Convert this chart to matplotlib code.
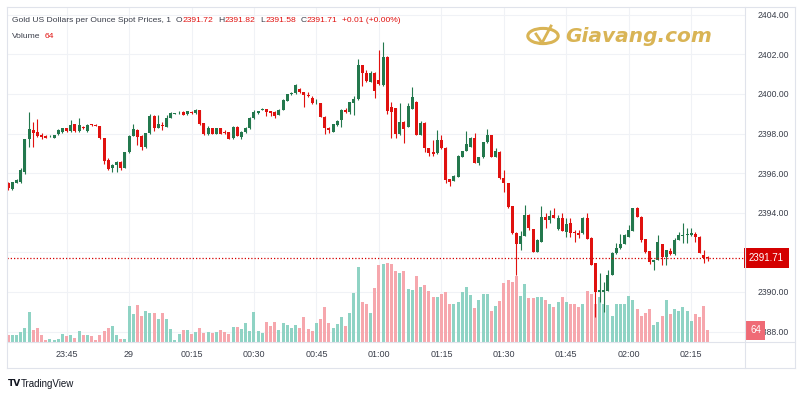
import numpy as np
import matplotlib.pyplot as plt
from matplotlib.patches import Circle
from matplotlib.lines import Line2D

plt.rcParams['font.family'] = ['Liberation Sans', 'DejaVu Sans']

# ====== data (1-minute candles, 23:31 -> 02:19) ======
opens = [
    2395.52, 2395.20, 2395.52, 2395.57, 2396.04, 2397.72, 2398.18, 2398.09, 2397.93, 2397.88,
    2397.86, 2397.79, 2397.96, 2398.09, 2398.26, 2398.13, 2398.46, 2398.13, 2398.35, 2398.13,
    2398.46, 2398.43, 2398.38, 2397.76, 2396.66, 2396.24, 2396.41, 2396.58, 2396.28, 2397.05,
    2397.89, 2398.20, 2397.88, 2397.30, 2398.01, 2398.89, 2398.30, 2398.43, 2398.35, 2398.80,
    2398.99, 2399.02, 2399.10, 2398.97, 2399.10, 2399.02, 2399.17, 2398.52, 2397.96, 2398.26,
    2397.99, 2398.26, 2398.09, 2398.06, 2397.76, 2398.35, 2397.84, 2398.06, 2398.26, 2398.77,
    2399.02, 2399.19, 2399.24, 2399.14, 2399.10, 2398.94, 2399.19, 2399.66, 2399.98, 2400.03,
    2400.23, 2400.08, 2399.95, 2399.81, 2399.52, 2399.53, 2398.85, 2398.30, 2398.09, 2398.43,
    2398.68, 2399.19, 2399.07, 2399.53, 2399.73, 2401.46, 2401.04, 2400.62, 2401.07, 2400.70,
    2400.45, 2401.88, 2399.32, 2399.27, 2397.96, 2398.60, 2398.35, 2399.24, 2399.61, 2397.93,
    2398.55, 2397.25, 2397.08, 2397.00, 2397.67, 2397.29, 2395.70, 2395.62, 2395.82, 2396.83,
    2397.12, 2397.34, 2397.76, 2396.49, 2396.80, 2397.56, 2397.93, 2396.83, 2397.08, 2395.77,
    2395.48, 2394.34, 2392.96, 2392.40, 2392.82, 2393.89, 2393.16, 2392.03, 2392.54, 2393.80,
    2393.63, 2393.89, 2393.16, 2393.72, 2393.01, 2393.46, 2393.04, 2392.99, 2392.96, 2393.72,
    2392.74, 2391.44, 2389.98, 2390.01, 2390.06, 2390.86, 2391.95, 2392.20, 2392.42, 2392.79,
    2393.09, 2394.22, 2393.80, 2392.66, 2392.07, 2391.53, 2391.61, 2392.42, 2391.78, 2392.07,
    2391.90, 2392.62, 2392.83, 2392.88, 2392.86, 2392.91, 2392.79, 2391.87, 2391.72,
]
highs = [
    2395.57, 2395.57, 2395.70, 2396.24, 2397.72, 2399.07, 2398.60, 2398.73, 2398.01, 2397.90,
    2397.92, 2397.95, 2398.22, 2398.30, 2398.28, 2398.68, 2398.50, 2398.77, 2398.38, 2398.46,
    2398.50, 2398.46, 2398.40, 2397.78, 2396.75, 2396.44, 2396.61, 2396.61, 2397.08, 2397.92,
    2398.46, 2398.23, 2397.90, 2398.04, 2398.97, 2398.92, 2398.94, 2398.57, 2398.94, 2399.07,
    2399.05, 2399.14, 2399.12, 2399.16, 2399.12, 2399.22, 2399.19, 2398.55, 2398.38, 2398.28,
    2398.28, 2398.28, 2398.16, 2398.08, 2398.38, 2398.38, 2398.12, 2398.33, 2398.85, 2399.19,
    2399.16, 2399.31, 2399.26, 2399.16, 2399.12, 2399.22, 2399.72, 2400.00, 2400.11, 2400.48,
    2400.28, 2400.10, 2400.11, 2399.91, 2399.74, 2399.55, 2398.87, 2398.33, 2398.48, 2398.68,
    2399.22, 2399.27, 2399.60, 2399.90, 2401.76, 2401.48, 2401.21, 2401.16, 2401.10, 2402.22,
    2402.61, 2401.90, 2399.61, 2399.29, 2399.53, 2398.62, 2399.53, 2400.33, 2399.63, 2398.63,
    2398.57, 2397.27, 2397.67, 2398.18, 2397.93, 2397.31, 2395.72, 2395.89, 2396.90, 2397.14,
    2398.14, 2397.82, 2398.01, 2396.82, 2397.58, 2398.21, 2397.95, 2397.25, 2397.10, 2396.16,
    2395.50, 2394.36, 2393.04, 2393.08, 2394.39, 2393.91, 2393.18, 2392.65, 2394.34, 2393.97,
    2394.14, 2394.26, 2393.89, 2393.97, 2393.75, 2393.72, 2393.13, 2393.13, 2393.77, 2393.97,
    2392.76, 2391.46, 2390.94, 2390.52, 2391.11, 2392.03, 2392.45, 2392.91, 2392.90, 2393.38,
    2394.25, 2394.31, 2393.82, 2392.68, 2392.09, 2391.63, 2392.88, 2392.44, 2392.14, 2392.20,
    2392.71, 2393.04, 2393.50, 2393.21, 2393.21, 2393.04, 2392.81, 2392.12, 2391.82,
]
lows = [
    2395.15, 2395.13, 2395.50, 2395.52, 2395.94, 2397.34, 2397.34, 2397.84, 2397.72, 2397.76,
    2397.82, 2397.77, 2397.94, 2398.05, 2398.10, 2398.10, 2398.10, 2398.10, 2398.22, 2398.10,
    2398.40, 2398.38, 2397.72, 2396.44, 2396.16, 2396.04, 2396.07, 2396.16, 2396.24, 2397.02,
    2397.86, 2397.42, 2397.17, 2397.27, 2397.98, 2398.13, 2398.27, 2398.18, 2398.32, 2398.77,
    2398.97, 2399.00, 2398.92, 2398.95, 2399.00, 2399.00, 2398.43, 2397.95, 2397.94, 2397.96,
    2397.96, 2397.96, 2397.96, 2397.70, 2397.74, 2397.86, 2397.72, 2398.03, 2398.24, 2398.75,
    2399.00, 2399.17, 2398.90, 2398.90, 2398.77, 2398.92, 2399.17, 2399.64, 2399.95, 2400.01,
    2400.03, 2399.36, 2399.86, 2399.50, 2399.49, 2398.83, 2397.96, 2398.01, 2398.06, 2398.40,
    2398.35, 2399.05, 2398.97, 2398.94, 2399.70, 2400.42, 2400.59, 2400.59, 2399.78, 2400.45,
    2400.42, 2398.99, 2397.76, 2397.79, 2397.94, 2397.50, 2398.33, 2399.22, 2397.90, 2397.90,
    2397.08, 2396.88, 2396.88, 2396.98, 2397.22, 2395.48, 2395.37, 2395.60, 2395.80, 2396.81,
    2397.10, 2397.32, 2396.50, 2396.41, 2396.78, 2397.54, 2396.80, 2396.81, 2395.70, 2395.06,
    2394.22, 2392.94, 2390.86, 2392.12, 2392.80, 2393.13, 2392.00, 2392.00, 2392.52, 2393.21,
    2393.46, 2393.72, 2393.14, 2393.06, 2392.79, 2392.79, 2392.54, 2392.71, 2392.94, 2392.65,
    2391.34, 2388.75, 2389.51, 2389.00, 2390.04, 2390.84, 2391.93, 2392.18, 2392.40, 2392.77,
    2393.07, 2393.78, 2392.54, 2391.95, 2391.39, 2391.11, 2391.59, 2391.36, 2391.36, 2391.87,
    2391.88, 2392.60, 2392.45, 2392.45, 2392.84, 2392.50, 2391.96, 2391.44, 2391.58,
]
closes = [
    2395.23, 2395.57, 2395.65, 2396.16, 2397.72, 2398.23, 2398.04, 2397.89, 2397.84, 2397.79,
    2397.88, 2397.93, 2398.18, 2398.26, 2398.13, 2398.43, 2398.13, 2398.43, 2398.26, 2398.43,
    2398.43, 2398.40, 2397.76, 2396.61, 2396.21, 2396.41, 2396.58, 2396.24, 2397.05, 2397.89,
    2398.23, 2397.84, 2397.30, 2398.01, 2398.90, 2398.30, 2398.46, 2398.40, 2398.80, 2399.02,
    2399.02, 2399.05, 2398.94, 2399.14, 2399.02, 2399.17, 2398.50, 2397.98, 2398.26, 2397.99,
    2398.26, 2397.99, 2398.01, 2397.72, 2398.35, 2397.88, 2398.09, 2398.30, 2398.77, 2399.07,
    2399.14, 2399.24, 2399.10, 2399.02, 2398.90, 2399.19, 2399.69, 2399.98, 2400.03, 2400.45,
    2400.08, 2399.95, 2399.90, 2399.53, 2399.54, 2398.85, 2398.26, 2398.18, 2398.46, 2398.65,
    2399.19, 2399.07, 2399.58, 2399.73, 2401.46, 2401.04, 2400.65, 2401.07, 2400.15, 2400.50,
    2401.88, 2399.14, 2399.07, 2397.96, 2398.60, 2398.23, 2399.39, 2399.83, 2397.93, 2398.52,
    2397.25, 2397.00, 2396.97, 2397.67, 2397.25, 2395.65, 2395.57, 2395.87, 2396.88, 2397.12,
    2397.45, 2397.79, 2396.53, 2396.80, 2397.56, 2397.93, 2396.83, 2397.12, 2395.77, 2395.48,
    2394.31, 2392.96, 2392.42, 2392.82, 2393.89, 2393.25, 2392.03, 2392.62, 2393.80, 2393.63,
    2393.85, 2393.75, 2393.75, 2393.08, 2393.41, 2392.99, 2392.96, 2392.88, 2393.72, 2392.67,
    2391.36, 2389.98, 2390.10, 2390.10, 2390.86, 2391.95, 2392.20, 2392.40, 2392.88, 2393.13,
    2394.22, 2393.80, 2392.62, 2392.03, 2391.49, 2391.61, 2392.51, 2391.78, 2392.12, 2391.90,
    2392.62, 2392.88, 2392.88, 2392.91, 2392.96, 2392.76, 2391.98, 2391.70, 2391.71,
]
volumes = [
    37, 37, 37, 55, 77, 165, 64, 79, 40, 13,
    18, 9, 18, 46, 33, 40, 22, 60, 37, 40,
    31, 9, 37, 60, 77, 86, 37, 18, 18, 196,
    152, 201, 143, 168, 159, 161, 128, 159, 123, 73,
    13, 46, 64, 64, 46, 55, 79, 49, 55, 49,
    55, 64, 55, 46, 82, 82, 73, 104, 60, 163,
    60, 51, 110, 88, 110, 64, 104, 92, 79, 92,
    77, 137, 70, 60, 104, 128, 192, 106, 77, 101,
    137, 88, 159, 265, 412, 216, 210, 156, 293, 421,
    425, 434, 425, 390, 379, 390, 289, 284, 362, 298,
    311, 280, 247, 247, 262, 275, 210, 207, 216, 275,
    298, 256, 188, 229, 262, 262, 170, 196, 225, 320,
    339, 329, 361, 251, 317, 238, 238, 247, 247, 229,
    205, 192, 216, 247, 220, 205, 205, 192, 210, 278,
    260, 210, 247, 210, 201, 143, 205, 205, 210, 251,
    229, 178, 143, 159, 183, 92, 110, 141, 229, 152,
    183, 170, 192, 170, 113, 152, 137, 196, 64,
]
time_labels = ['23:45', '29', '00:15', '00:30', '00:45', '01:00', '01:15', '01:30', '01:45', '02:00', '02:15']
time_label_idx = [14, 29, 44, 59, 74, 89, 104, 119, 134, 149, 164]
price_ticks = [2388, 2390, 2392, 2394, 2396, 2398, 2400, 2402, 2404]
last_price = 2391.71
last_volume = 64

# ====== colours ======
UP, DOWN = '#23784d', '#e0110f'
UP_VOL, DOWN_VOL = '#8fd3c4', '#f6a7ad'
GRID, FRAME = '#f0f2f6', '#e0e3eb'
DARK, RED = '#3a3e4a', '#e0110f'

W, H = 800, 400
def fx(px):
    return px / W
def fy(py):
    return 1 - py / H

fig = plt.figure(figsize=(8, 4), dpi=100)
rect = [fx(7), fy(342), fx(745) - fx(7), fy(7) - fy(342)]

o = np.array(opens); h = np.array(highs); l = np.array(lows); c = np.array(closes)
v = np.array(volumes)
x = np.arange(len(c))
up = c >= o

# --- background axes: grid + tick labels ---
ax = fig.add_axes(rect)
ax.set_xlim(-0.3, 176.9)
ax.set_ylim(2387.47, 2404.39)
ax.set_yticks(price_ticks)
ax.set_yticklabels([f'{p:.2f}' for p in price_ticks])
ax.yaxis.tick_right()
ax.set_xticks(time_label_idx)
ax.set_xticklabels(time_labels)
ax.tick_params(axis='y', length=0, pad=9, labelsize=6.2, labelcolor=DARK)
ax.tick_params(axis='x', length=0, pad=6, labelsize=6.5, labelcolor=DARK)
ax.grid(True, color=GRID, lw=0.8)
for s in ax.spines.values():
    s.set_visible(False)

# --- volume axes ---
ax_v = fig.add_axes(rect, sharex=ax)
ax_v.patch.set_alpha(0)
ax_v.bar(x, v, width=0.72, color=np.where(up, UP_VOL, DOWN_VOL), linewidth=0)
ax_v.set_ylim(0, 1830)
ax_v.set_yticks([])
ax_v.tick_params(axis='x', length=0, labelbottom=False)
for s in ax_v.spines.values():
    s.set_visible(False)

# --- candle axes ---
ax_c = fig.add_axes(rect, sharex=ax, sharey=ax)
ax_c.patch.set_alpha(0)
cols = np.where(up, UP, DOWN)
ax_c.vlines(x, l, h, colors=cols, lw=0.8)
body = np.maximum(np.abs(c - o), 0.03)
ax_c.bar(x, body, bottom=np.minimum(o, c), width=0.72, color=cols, linewidth=0)
ax_c.axhline(last_price, color='#d50000', lw=0.9, ls=(0, (1, 1.6)))
ax_c.tick_params(length=0, labelbottom=False, labelleft=False)
for s in ax_c.spines.values():
    s.set_visible(False)

# last price / last volume labels on the scale (cover the tick labels as in TradingView)
ax_c.text(1.005, last_price, f'{last_price:.2f}', transform=ax_c.get_yaxis_transform(),
          ha='left', va='center', color='white', fontsize=7, clip_on=False,
          bbox=dict(boxstyle='square,pad=0.5', fc='#d40000', ec='none'))
ax_v.text(1.007, last_volume, f'{last_volume}', transform=ax_v.get_yaxis_transform(),
          ha='left', va='center', color='white', fontsize=7, clip_on=False,
          bbox=dict(boxstyle='square,pad=0.45', fc='#ef6b76', ec='none'))

# frame lines
for (x0, y0, x1, y1) in [(7, 7, 795, 7), (7, 7, 7, 368), (795, 7, 795, 368), (7, 368, 795, 368),
                         (745, 7, 745, 368), (7, 342, 795, 342)]:
    fig.add_artist(Line2D([fx(x0), fx(x1)], [fy(y0), fy(y1)], color=FRAME, lw=0.8))

# legend text, pieces placed one after another
renderer = fig.canvas.get_renderer()
def text_run(parts, px, py, size=6.1):
    for s, col, gap in parts:
        t = fig.text(fx(px), fy(py), s, color=col, fontsize=size, va='center')
        px = t.get_window_extent(renderer).x1 + gap

text_run([('Gold US Dollars per Ounce Spot Prices, 1', DARK, 5),
          ('O', DARK, 0), ('2391.72', RED, 5),
          ('H', DARK, 0), ('2391.82', RED, 5),
          ('L', DARK, 0), ('2391.58', RED, 5),
          ('C', DARK, 0), ('2391.71', RED, 4),
          ('+0.01 (+0.00%)', RED, 0)], 12, 21)
text_run([('Volume', DARK, 4), ('64', RED, 0)], 12, 37)

# watermark
GOLD = '#d9b455'
fig.add_artist(Circle((fx(543), fy(36)), 0.019, transform=fig.transFigure, fill=False,
                      ec=GOLD, lw=2.2))
fig.add_artist(Line2D([fx(536), fx(542), fx(551)], [fy(34), fy(43), fy(26)], color=GOLD, lw=2))
fig.text(fx(565), fy(37), 'Giavang.com', color=GOLD, fontsize=14.5, fontweight='bold',
         style='italic', va='center', family=['DejaVu Sans'])

# TradingView credit
fig.text(fx(8), fy(384), 'TV', color='#131722', fontsize=6.5, fontweight='bold', va='center',
         family=['DejaVu Sans'])
fig.text(fx(21), fy(384), 'TradingView', color='#131722', fontsize=7, va='center')

fig.savefig('out.png', dpi=100, facecolor='white')
